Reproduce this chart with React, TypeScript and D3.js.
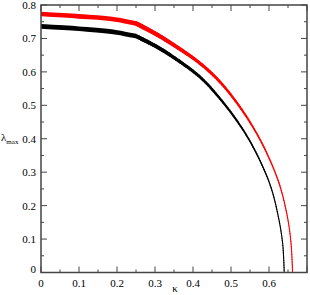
import React, { useEffect, useRef } from 'react';
import * as d3 from 'd3';

// kappa / lambda_max
const blackKappa = [0, 0.1, 0.2, 0.25, 0.3, 0.339, 0.418, 0.471, 0.524, 0.563, 0.603, 0.624, 0.636, 0.64];
const blackLambda = [0.736, 0.729, 0.718, 0.707, 0.678, 0.651, 0.585, 0.52, 0.44, 0.365, 0.262, 0.17, 0.086, 0];
const redKappa = [0, 0.1, 0.2, 0.25, 0.3, 0.339, 0.418, 0.471, 0.524, 0.568, 0.603, 0.629, 0.649, 0.658, 0.662];
const redLambda = [0.773, 0.766, 0.756, 0.745, 0.715, 0.688, 0.626, 0.57, 0.494, 0.415, 0.335, 0.258, 0.163, 0.087, 0];
const xTicks = [0, 0.1, 0.2, 0.3, 0.4, 0.5, 0.6];
const yTicks = [0, 0.1, 0.2, 0.3, 0.4, 0.5, 0.6, 0.7, 0.8];

const App = () => {
  const svgRef = useRef(null);

  useEffect(() => {
    const svg = d3.select(svgRef.current);
    svg.selectAll('*').remove();

    const left = 41, right = 307, top = 5, bottom = 272.5;
    const x = d3.scaleLinear().domain([0, 0.7]).range([left, right]);
    const y = d3.scaleLinear().domain([0, 0.8]).range([bottom, top]);
    const axisColor = '#444';
    const font = '"Liberation Serif", "DejaVu Serif", "Times New Roman", serif';

    // curve gets thinner as it drops (as in the original)
    const drawCurve = (ks, ls, color) => {
      const pts = ks.map((k, i) => [x(k), y(ls[i])]);
      const thick = pts.filter((p, i) => ks[i] <= 0.25);
      svg.append('path').attr('fill', 'none').attr('stroke', color).attr('stroke-width', 4.6)
        .attr('stroke-linejoin', 'round')
        .attr('d', d3.line().curve(d3.curveMonotoneX)(thick));
      const rest = pts.filter((p, i) => ks[i] >= 0.25);
      const tmp = svg.append('path').attr('fill', 'none')
        .attr('d', d3.line().curve(d3.curveCatmullRom)(rest));
      const node = tmp.node();
      const len = node.getTotalLength();
      tmp.remove();
      const steps = 120;
      for (let i = 0; i < steps; i++) {
        const a = node.getPointAtLength((len * i) / steps);
        const b = node.getPointAtLength((len * (i + 1)) / steps);
        const lam = y.invert((a.y + b.y) / 2);
        const w = 1.1 + 3.2 * Math.pow(Math.max(lam, 0) / 0.72, 3);
        svg.append('line').attr('x1', a.x).attr('y1', a.y).attr('x2', b.x).attr('y2', b.y)
          .attr('stroke', color).attr('stroke-width', Math.min(w, 4.6)).attr('stroke-linecap', 'round');
      }
    };

    drawCurve(redKappa, redLambda, '#ff0000');
    drawCurve(blackKappa, blackLambda, '#000000');

    // frame
    svg.append('rect').attr('x', left).attr('y', top).attr('width', right - left).attr('height', bottom - top)
      .attr('fill', 'none').attr('stroke', axisColor).attr('stroke-width', 1.5);

    // ticks on all four sides, pointing inward
    d3.range(0, 0.70001, 0.05).forEach((v, i) => {
      const len = i % 2 === 0 ? 6 : 3;
      svg.append('line').attr('x1', x(v)).attr('x2', x(v)).attr('y1', bottom).attr('y2', bottom - len).attr('stroke', axisColor);
      svg.append('line').attr('x1', x(v)).attr('x2', x(v)).attr('y1', top).attr('y2', top + len).attr('stroke', axisColor);
    });
    d3.range(0, 0.80001, 0.05).forEach((v, i) => {
      const len = i % 2 === 0 ? 6 : 3;
      svg.append('line').attr('y1', y(v)).attr('y2', y(v)).attr('x1', left).attr('x2', left + len).attr('stroke', axisColor);
      svg.append('line').attr('y1', y(v)).attr('y2', y(v)).attr('x1', right).attr('x2', right - len).attr('stroke', axisColor);
    });

    // tick labels
    svg.selectAll('.xl').data(xTicks).enter().append('text')
      .attr('x', d => x(d)).attr('y', 287).attr('text-anchor', 'middle')
      .style('font-family', font).style('font-size', '11px').text(d => (d === 0 ? '0' : d3.format('.1f')(d)));
    svg.selectAll('.yl').data(yTicks).enter().append('text')
      .attr('x', 36).attr('y', d => y(d) + 4 - (d === 0 ? 4 : 0)).attr('text-anchor', 'end')
      .style('font-family', font).style('font-size', '11px').text(d => (d === 0 ? '0' : d3.format('.1f')(d)));

    // axis titles
    svg.append('text').attr('x', 175).attr('y', 292).attr('text-anchor', 'middle')
      .style('font-family', font).style('font-size', '11px').text('κ');
    const yl = svg.append('text').attr('x', 1).attr('y', 141).style('font-family', font).style('font-size', '11px');
    yl.append('tspan').text('λ');
    yl.append('tspan').style('font-size', '7px').attr('dy', 3).text('max');
  }, []);

  return <svg ref={svgRef} width={310} height={295} style={{ position: 'absolute', left: 0, top: 0 }} />;
};

export default App;
